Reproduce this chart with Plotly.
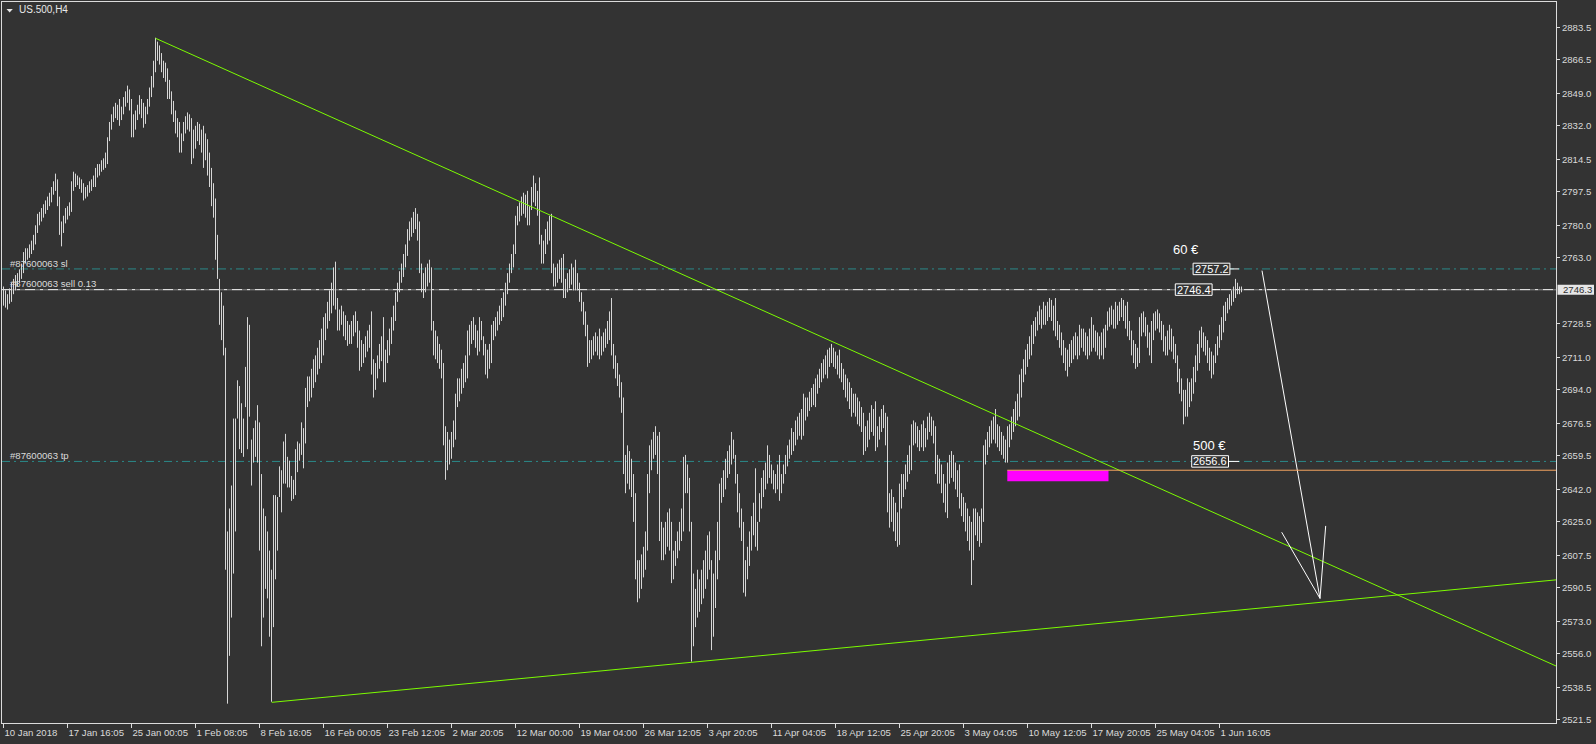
import plotly.graph_objects as go

# ---------------- data ----------------
symbol_label = "US.500,H4"

# H4 bars, one value per bar (bar 0 = 10 Jan 2018)
highs = [
    2748, 2746, 2744, 2747, 2750, 2752, 2754, 2755, 2757, 2760, 2766, 2768,
    2768, 2770, 2772, 2775, 2780, 2786, 2787, 2789, 2791, 2793, 2795, 2797,
    2800, 2803, 2807, 2804, 2795, 2782, 2785, 2789, 2790, 2792, 2803, 2808,
    2807, 2806, 2805, 2804, 2802, 2800, 2801, 2803, 2804, 2806, 2810, 2812,
    2812, 2814, 2815, 2818, 2826, 2834, 2838, 2842, 2844, 2843, 2846, 2842,
    2847, 2850, 2853, 2851, 2846, 2838, 2840, 2843, 2848, 2846, 2844, 2842,
    2846, 2852, 2858, 2866, 2878, 2876, 2874, 2870, 2866, 2865, 2862, 2856,
    2850, 2845, 2840, 2836, 2834, 2828, 2834, 2837, 2839, 2838, 2836, 2830,
    2832, 2834, 2833, 2830, 2832, 2828, 2825, 2818, 2810, 2802, 2794, 2775,
    2752, 2745, 2738, 2716, 2620, 2632, 2644, 2679, 2679, 2699, 2696, 2687,
    2679, 2706, 2732, 2728, 2668, 2674, 2678, 2686, 2677, 2650, 2632, 2628,
    2620, 2610, 2600, 2639, 2639, 2638, 2654, 2652, 2667, 2671, 2659, 2657,
    2649, 2647, 2663, 2667, 2666, 2677, 2674, 2695, 2701, 2701, 2705, 2710,
    2712, 2716, 2720, 2726, 2732, 2734, 2740, 2746, 2750, 2758, 2761, 2742,
    2736, 2738, 2735, 2733, 2730, 2728, 2730, 2733, 2735, 2730, 2725, 2720,
    2718, 2722, 2725, 2728, 2735, 2710, 2708, 2712, 2718, 2722, 2732, 2715,
    2720, 2726, 2732, 2738, 2745, 2750, 2756, 2760, 2765, 2770, 2778, 2782,
    2784, 2787, 2789, 2786, 2782, 2760, 2755, 2758, 2760, 2762, 2758, 2730,
    2725, 2722, 2718, 2715, 2708, 2675, 2672, 2668, 2672, 2678, 2692, 2700,
    2700, 2705, 2708, 2712, 2725, 2728, 2730, 2732, 2728, 2725, 2732, 2730,
    2722, 2718, 2715, 2718, 2728, 2730, 2732, 2735, 2738, 2742, 2745, 2750,
    2755, 2760, 2765, 2770, 2785, 2790, 2792, 2795, 2797, 2796, 2798, 2790,
    2800, 2806, 2802, 2798, 2805, 2775, 2772, 2778, 2782, 2785, 2786, 2760,
    2758, 2760, 2762, 2763, 2765, 2752, 2755, 2757, 2760, 2758, 2762, 2755,
    2750, 2745, 2740, 2735, 2728, 2720, 2720, 2722, 2724, 2722, 2726, 2722,
    2724, 2726, 2730, 2735, 2742, 2718, 2712, 2708, 2702, 2698, 2690, 2660,
    2665, 2662, 2658, 2650, 2640, 2605, 2605, 2608, 2612, 2620, 2650, 2665,
    2668, 2672, 2675, 2670, 2672, 2625, 2622, 2625, 2630, 2632, 2625, 2610,
    2615, 2620, 2625, 2632, 2659, 2660, 2655, 2648, 2625, 2598, 2590, 2600,
    2595, 2600, 2605, 2610, 2618, 2620, 2605, 2598, 2610, 2625, 2645, 2648,
    2652, 2658, 2662, 2665, 2672, 2668, 2660, 2650, 2640, 2632, 2625, 2605,
    2612, 2620, 2628, 2635, 2653, 2625, 2640, 2648, 2652, 2656, 2665, 2660,
    2655, 2652, 2650, 2655, 2660, 2650, 2655, 2660, 2665, 2668, 2674, 2672,
    2678, 2680, 2682, 2684, 2692, 2690, 2690, 2693, 2695, 2697, 2700, 2702,
    2705, 2708, 2710, 2712, 2715, 2716, 2718, 2716, 2714, 2712, 2715, 2708,
    2705, 2702, 2700, 2698, 2695, 2692, 2692, 2690, 2688, 2685, 2682, 2675,
    2678, 2682, 2686, 2684, 2688, 2675, 2680, 2684, 2686, 2682, 2680, 2640,
    2642, 2638, 2635, 2630, 2645, 2650, 2650, 2655, 2660, 2665, 2676, 2678,
    2677, 2675, 2673, 2676, 2678, 2674, 2680, 2682, 2680, 2678, 2675, 2660,
    2658, 2655, 2650, 2645, 2656, 2660, 2662, 2660, 2656, 2652, 2655, 2640,
    2638, 2635, 2632, 2628, 2625, 2632, 2632, 2630, 2628, 2632, 2665, 2668,
    2672, 2675, 2678, 2680, 2684, 2676, 2675, 2672, 2670, 2668, 2675, 2676,
    2680, 2684, 2688, 2692, 2702, 2705, 2710, 2715, 2718, 2722, 2728, 2730,
    2732, 2735, 2738, 2736, 2740, 2738, 2740, 2742, 2741, 2738, 2742, 2730,
    2728, 2724, 2720, 2716, 2715, 2718, 2720, 2722, 2724, 2722, 2728, 2726,
    2726, 2724, 2722, 2726, 2732, 2728, 2725, 2724, 2722, 2724, 2726, 2728,
    2735, 2737, 2738, 2736, 2740, 2738, 2740, 2742, 2741, 2738, 2740, 2730,
    2725, 2720, 2718, 2716, 2732, 2734, 2735, 2732, 2728, 2724, 2730, 2734,
    2735, 2736, 2734, 2730, 2728, 2722, 2725, 2728, 2726, 2722, 2718, 2712,
    2705, 2700, 2694, 2694, 2700, 2698, 2700, 2706, 2712, 2718, 2725, 2727,
    2724, 2722, 2720, 2716, 2714, 2712, 2718, 2722, 2728, 2732, 2738, 2740,
    2742, 2744, 2746, 2748, 2752, 2750, 2748, 2748,
]
lows = [
    2738, 2737, 2736, 2739, 2740, 2744, 2746, 2748, 2750, 2752, 2755, 2760,
    2762, 2763, 2765, 2767, 2770, 2776, 2780, 2782, 2784, 2786, 2788, 2790,
    2792, 2796, 2798, 2790, 2775, 2769, 2776, 2781, 2783, 2785, 2787, 2798,
    2800, 2801, 2799, 2797, 2793, 2794, 2795, 2797, 2798, 2800, 2800, 2805,
    2806, 2808, 2809, 2810, 2812, 2824, 2830, 2834, 2836, 2835, 2832, 2835,
    2838, 2842, 2844, 2840, 2826, 2826, 2830, 2835, 2838, 2836, 2831, 2833,
    2838, 2842, 2847, 2852, 2860, 2866, 2864, 2860, 2857, 2855, 2846, 2846,
    2838, 2834, 2828, 2826, 2818, 2818, 2824, 2828, 2830, 2829, 2812, 2815,
    2820, 2824, 2822, 2818, 2810, 2814, 2806, 2800, 2790, 2784, 2762, 2752,
    2728, 2720, 2712, 2600, 2530, 2555, 2575, 2598, 2620, 2679, 2663, 2661,
    2659, 2685, 2663, 2680, 2644, 2656, 2659, 2656, 2610, 2560, 2575, 2590,
    2585, 2565, 2531, 2570, 2595, 2610, 2638, 2630, 2645, 2645, 2643, 2643,
    2636, 2637, 2639, 2651, 2657, 2660, 2653, 2666, 2685, 2688, 2690, 2695,
    2698, 2702, 2705, 2708, 2712, 2720, 2726, 2730, 2734, 2738, 2736, 2725,
    2725, 2728, 2722, 2720, 2717, 2718, 2718, 2722, 2724, 2716, 2704, 2706,
    2708, 2711, 2714, 2716, 2702, 2690, 2694, 2700, 2705, 2709, 2698, 2698,
    2708, 2712, 2718, 2725, 2730, 2740, 2745, 2750, 2753, 2758, 2764, 2772,
    2774, 2776, 2778, 2772, 2755, 2745, 2742, 2745, 2748, 2750, 2725, 2712,
    2710, 2708, 2705, 2700, 2665, 2647, 2652, 2655, 2658, 2664, 2668, 2685,
    2688, 2692, 2695, 2698, 2700, 2712, 2718, 2720, 2716, 2712, 2714, 2720,
    2712, 2702, 2700, 2705, 2708, 2720, 2722, 2725, 2728, 2730, 2732, 2738,
    2744, 2750, 2755, 2758, 2765, 2780, 2782, 2785, 2786, 2784, 2780, 2780,
    2788, 2792, 2790, 2785, 2770, 2760, 2760, 2765, 2770, 2772, 2755, 2748,
    2748, 2750, 2752, 2750, 2742, 2742, 2745, 2747, 2749, 2746, 2746, 2746,
    2740, 2735, 2728, 2722, 2706, 2708, 2710, 2712, 2714, 2712, 2710, 2712,
    2714, 2716, 2718, 2720, 2712, 2705, 2700, 2696, 2690, 2682, 2650, 2640,
    2645, 2642, 2638, 2625, 2595, 2583, 2585, 2590, 2596, 2600, 2610, 2640,
    2652, 2658, 2660, 2650, 2615, 2605, 2605, 2608, 2612, 2610, 2593, 2595,
    2602, 2606, 2610, 2615, 2620, 2640, 2640, 2620, 2552, 2560, 2570, 2575,
    2578, 2582, 2585, 2590, 2595, 2600, 2558, 2565, 2580, 2595, 2605, 2635,
    2638, 2642, 2648, 2650, 2655, 2658, 2645, 2630, 2622, 2615, 2588, 2586,
    2595, 2602, 2610, 2618, 2612, 2610, 2625, 2632, 2638, 2642, 2645, 2648,
    2645, 2642, 2640, 2642, 2636, 2640, 2645, 2650, 2654, 2658, 2660, 2662,
    2665, 2668, 2670, 2668, 2670, 2678, 2680, 2683, 2685, 2686, 2685, 2692,
    2695, 2698, 2700, 2702, 2700, 2706, 2708, 2706, 2705, 2702, 2700, 2698,
    2694, 2690, 2688, 2684, 2680, 2682, 2680, 2676, 2675, 2672, 2660, 2662,
    2664, 2668, 2672, 2670, 2662, 2664, 2668, 2672, 2674, 2665, 2630, 2622,
    2625, 2620, 2615, 2612, 2613, 2632, 2638, 2642, 2646, 2650, 2652, 2665,
    2666, 2664, 2662, 2664, 2662, 2664, 2668, 2672, 2670, 2666, 2650, 2645,
    2645, 2640, 2635, 2630, 2627, 2645, 2648, 2646, 2642, 2638, 2632, 2628,
    2625, 2620, 2615, 2610, 2592, 2605, 2618, 2615, 2612, 2614, 2625, 2655,
    2660, 2664, 2666, 2668, 2666, 2664, 2662, 2660, 2658, 2656, 2656, 2664,
    2668, 2672, 2675, 2678, 2680, 2690, 2698, 2702, 2706, 2710, 2712, 2718,
    2722, 2725, 2728, 2726, 2728, 2728, 2730, 2732, 2730, 2725, 2722, 2720,
    2716, 2712, 2708, 2704, 2701, 2706, 2708, 2710, 2712, 2710, 2712, 2716,
    2714, 2712, 2710, 2712, 2714, 2716, 2714, 2712, 2710, 2712, 2710, 2716,
    2725, 2727, 2728, 2726, 2726, 2728, 2730, 2732, 2730, 2726, 2722, 2720,
    2712, 2708, 2705, 2706, 2708, 2722, 2724, 2722, 2716, 2712, 2708, 2720,
    2725, 2726, 2724, 2720, 2714, 2712, 2712, 2715, 2714, 2710, 2708, 2698,
    2692, 2688, 2676, 2680, 2680, 2685, 2688, 2692, 2698, 2704, 2708, 2716,
    2714, 2712, 2708, 2704, 2700, 2702, 2708, 2712, 2716, 2720, 2724, 2730,
    2734, 2736, 2738, 2740, 2742, 2744, 2744, 2745,
]

x_tick_labels = [
    "10 Jan 2018", "17 Jan 16:05", "25 Jan 00:05", "1 Feb 08:05", "8 Feb 16:05",
    "16 Feb 00:05", "23 Feb 12:05", "2 Mar 20:05", "12 Mar 00:00", "19 Mar 04:00",
    "26 Mar 12:05", "3 Apr 20:05", "11 Apr 04:05", "18 Apr 12:05", "25 Apr 20:05",
    "3 May 04:05", "10 May 12:05", "17 May 20:05", "25 May 04:05", "1 Jun 16:05",
]
bars_per_label = 32

y_tick_values = [2883.5, 2866.5, 2849.0, 2832.0, 2814.5, 2797.5, 2780.0, 2763.0,
                 2728.5, 2711.0, 2694.0, 2676.5, 2659.5, 2642.0, 2625.0, 2607.5,
                 2590.5, 2573.0, 2556.0, 2538.5, 2521.5]

bid_price = 2746.3
order_id = "#87600063"
order_lots = "0.13"
open_price = 2746.4
stop_loss = 2757.2
take_profit = 2656.6
sl_money = "60 €"
tp_money = "500 €"

# trend lines: (bar index, price)
resistance_bars = [76, 776.25]
resistance_prices = [2877.75, 2549.7]
support_bars = [134.1, 776.25]
support_prices = [2530.7, 2594.7]

# projected move (white lines)
arrow_main_bars = [629.25, 658.25]
arrow_main_prices = [2756.3, 2585.0]
arrow_left_bars = [639.1, 658.25]
arrow_left_prices = [2619.6, 2585.0]
arrow_right_bars = [661.1, 658.25]
arrow_right_prices = [2622.9, 2585.0]

# demand zone and level
zone_bars = [501.9, 552.5]
zone_prices = [2646.2, 2652.0]
level_price = 2652.0

# ---------------- styling ----------------
W, H = 1596, 744
ML, MR, MT, MB = 2, 40, 2, 21
PW, PH = W - ML - MR, H - MT - MB
X_RANGE = [-0.75, 776.25]
Y_RANGE = [2519.9, 2896.7]

BG = "#333333"
FRAME = "#dcdcdc"
TXT = "#dadada"
BAR = "#d6d6d6"
GREEN = "#7CFC00"
TEAL = "#2b8a8a"
FONT = "Liberation Sans, Arial, sans-serif"
FS = 9.6
DASHDOT = "8px,4px,2px,4px"


def px_x(px):
    return (px - ML) / PW


def px_y(py):
    return (MT + PH - py) / PH


fig = go.Figure()

# price bars (high-low lines)
bx, by = [], []
for i, (h, l) in enumerate(zip(highs, lows)):
    bx += [i, i, None]
    by += [l, h, None]
fig.add_trace(go.Scatter(x=bx, y=by, mode="lines", line=dict(color=BAR, width=1),
                         hoverinfo="skip", showlegend=False))

shapes = []
# horizontal order lines
shapes.append(dict(type="line", xref="paper", yref="y", x0=0, x1=1, y0=stop_loss, y1=stop_loss,
                   line=dict(color=TEAL, width=1, dash=DASHDOT), layer="below"))
shapes.append(dict(type="line", xref="paper", yref="y", x0=0, x1=1, y0=take_profit, y1=take_profit,
                   line=dict(color=TEAL, width=1, dash=DASHDOT), layer="below"))
shapes.append(dict(type="line", xref="paper", yref="y", x0=0, x1=1, y0=bid_price, y1=bid_price,
                   line=dict(color="#8a8a8a", width=1), layer="below"))
shapes.append(dict(type="line", xref="paper", yref="y", x0=0, x1=1, y0=open_price, y1=open_price,
                   line=dict(color="#e8e8e8", width=1, dash="10px,5px,3px,5px"), layer="below"))
# zone + level
shapes.append(dict(type="rect", xref="x", yref="y", x0=zone_bars[0], x1=zone_bars[1],
                   y0=zone_prices[0], y1=zone_prices[1], fillcolor="#ff00ff",
                   line=dict(width=0), layer="below"))
shapes.append(dict(type="line", xref="x", yref="y", x0=zone_bars[0], x1=X_RANGE[1],
                   y0=level_price, y1=level_price, line=dict(color="#F4A460", width=1)))

fig.add_trace(go.Scatter(x=resistance_bars, y=resistance_prices, mode="lines",
                         line=dict(color=GREEN, width=1), hoverinfo="skip", showlegend=False))
fig.add_trace(go.Scatter(x=support_bars, y=support_prices, mode="lines",
                         line=dict(color=GREEN, width=1), hoverinfo="skip", showlegend=False))
for bxs, pys in [(arrow_main_bars, arrow_main_prices), (arrow_left_bars, arrow_left_prices),
                 (arrow_right_bars, arrow_right_prices)]:
    fig.add_trace(go.Scatter(x=bxs, y=pys, mode="lines", line=dict(color="#ffffff", width=1),
                             hoverinfo="skip", showlegend=False))

annotations = []

# price boxes for SL / open / TP
BOX_HALF_W = 9.2   # bars
BOX_HALF_H = 3.0   # price units
for centre_bar, price, whisker in [(604.0, stop_loss, 4.5), (595.1, open_price, 4.0),
                                   (603.3, take_profit, 5.3)]:
    shapes.append(dict(type="rect", xref="x", yref="y",
                       x0=centre_bar - BOX_HALF_W, x1=centre_bar + BOX_HALF_W,
                       y0=price - BOX_HALF_H, y1=price + BOX_HALF_H,
                       fillcolor=BG, line=dict(color="#ffffff", width=1)))
    shapes.append(dict(type="line", xref="x", yref="y",
                       x0=centre_bar + BOX_HALF_W, x1=centre_bar + BOX_HALF_W + whisker,
                       y0=price, y1=price, line=dict(color="#ffffff", width=1)))
    annotations.append(dict(x=centre_bar, y=price, xref="x", yref="y", text=f"{price:.1f}",
                            showarrow=False, xanchor="center", yanchor="middle",
                            font=dict(family=FONT, size=11, color="#ffffff"), borderpad=0))

annotations.append(dict(x=584.1, y=2767.6, xref="x", yref="y", text=sl_money, showarrow=False,
                        xanchor="left", yanchor="middle", borderpad=0,
                        font=dict(family=FONT, size=13, color="#ffffff")))
annotations.append(dict(x=594.1, y=2664.7, xref="x", yref="y", text=tp_money, showarrow=False,
                        xanchor="left", yanchor="middle", borderpad=0,
                        font=dict(family=FONT, size=13, color="#ffffff")))

# order labels at the left
for txt, price, shift in [(f"{order_id} sl", stop_loss, 5.7),
                          (f"{order_id} sell {order_lots}", open_price, 6.3),
                          (f"{order_id} tp", take_profit, 5.8)]:
    annotations.append(dict(x=px_x(9), y=price, xref="paper", yref="y", text=txt, showarrow=False,
                            xanchor="left", yanchor="middle", yshift=shift, borderpad=0,
                            font=dict(family=FONT, size=FS, color=TXT)))

# symbol label + triangle
annotations.append(dict(x=px_x(18), y=px_y(10), xref="paper", yref="paper", text=symbol_label,
                        showarrow=False, xanchor="left", yanchor="middle", borderpad=0,
                        font=dict(family=FONT, size=10, color="#e8e8e8")))
shapes.append(dict(type="path", xref="paper", yref="paper",
                   path=f"M {px_x(6.5)} {px_y(9)} L {px_x(12.8)} {px_y(9)} L {px_x(9.65)} {px_y(12.4)} Z",
                   fillcolor="#e8e8e8", line=dict(width=0)))

# current bid box on the price axis
shapes.append(dict(type="rect", xref="paper", yref="y", x0=px_x(1557.5), x1=px_x(1594),
                   y0=bid_price - 2.6, y1=bid_price + 2.6, fillcolor="#e6e6e6",
                   line=dict(width=0)))
annotations.append(dict(x=px_x(1561.5), y=bid_price, xref="paper", yref="y", text=f"{bid_price:.1f}",
                        showarrow=False, xanchor="left", yanchor="middle", borderpad=0,
                        font=dict(family=FONT, size=FS, color="#303030")))

fig.update_layout(
    width=W, height=H,
    margin=dict(l=ML, r=MR, t=MT, b=MB, pad=0, autoexpand=False),
    paper_bgcolor=BG, plot_bgcolor=BG,
    showlegend=False,
    shapes=shapes, annotations=annotations,
    xaxis=dict(range=X_RANGE, showgrid=False, zeroline=False, fixedrange=True, automargin=False,
               showline=True, mirror=True, linecolor=FRAME, linewidth=1,
               ticks="outside", ticklen=4, tickcolor=FRAME, tickwidth=1, tickangle=0,
               tickvals=[k * bars_per_label for k in range(len(x_tick_labels))],
               ticktext=x_tick_labels, ticklabelposition="outside right",
               tickfont=dict(family=FONT, size=FS, color=TXT)),
    yaxis=dict(range=Y_RANGE, side="right", showgrid=False, zeroline=False, fixedrange=True,
               automargin=False,
               showline=True, mirror=True, linecolor=FRAME, linewidth=1,
               ticks="outside", ticklen=3, tickcolor=FRAME, tickwidth=1,
               tickvals=y_tick_values, ticktext=[f"{v:.1f}" for v in y_tick_values],
               tickfont=dict(family=FONT, size=FS, color=TXT)),
)

page_fix = ("document.documentElement.style.margin='0';document.body.style.margin='0';"
            "document.body.style.padding='0';document.body.style.background='#333333';"
            "document.body.style.overflow='hidden';")
fig.write_html("out.html", post_script=page_fix,
               config={"displayModeBar": False, "staticPlot": True})
